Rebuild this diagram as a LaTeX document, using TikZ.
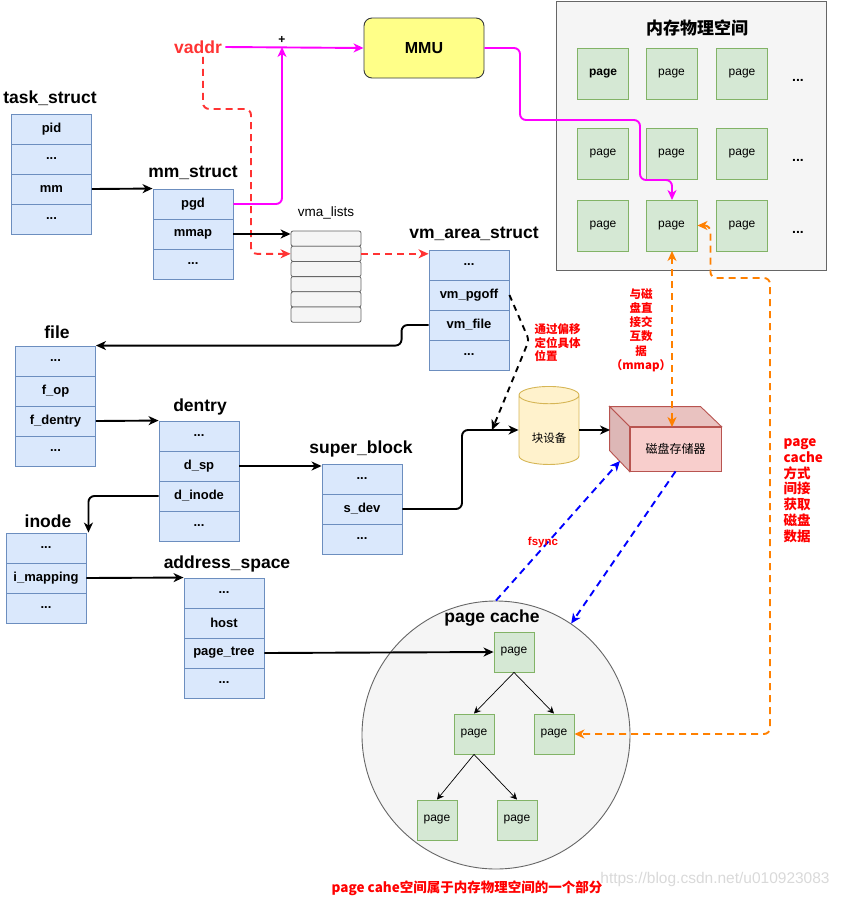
\documentclass[tikz,border=0pt]{standalone}
\usepackage{fontspec}
\setmainfont{Liberation Sans}
\newfontfamily\cjk{Noto Sans CJK SC}
\usetikzlibrary{arrows.meta,shapes.geometric}

\definecolor{fldfill}{HTML}{DAE8FC}
\definecolor{fldline}{HTML}{6C8EBF}
\definecolor{pgfill}{HTML}{D5E8D4}
\definecolor{pgline}{HTML}{82B366}
\definecolor{memfill}{HTML}{F5F5F5}
\definecolor{memline}{HTML}{666666}
\definecolor{mmufill}{HTML}{FFFF88}
\definecolor{mmuline}{HTML}{36393D}
\definecolor{blkfill}{HTML}{FFF2CC}
\definecolor{blkline}{HTML}{D6B656}
\definecolor{diskfill}{HTML}{F8CECC}
\definecolor{diskline}{HTML}{B85450}
\definecolor{vred}{HTML}{FF3333}
\definecolor{magline}{HTML}{FF00FF}
\definecolor{orline}{HTML}{FF8000}

\newcommand{\fdots}{...}

\begin{document}
\begin{tikzpicture}[x=1pt, y=-1pt,
    >={Stealth[length=10pt, width=9pt, inset=3pt]},
    fld/.style={draw=fldline, fill=fldfill, line width=0.9pt, minimum width=80pt, minimum height=30pt, inner sep=0pt, font=\fontsize{13}{15}\selectfont\bfseries},
    ttl/.style={font=\fontsize{17.5}{20}\selectfont\bfseries},
    pg/.style={draw=pgline, fill=pgfill, line width=0.9pt, minimum size=51pt, inner sep=0pt, font=\fontsize{12}{14}\selectfont},
    tpg/.style={pg, minimum size=40pt},
    vl/.style={draw=memline, fill=memfill, line width=0.8pt, rounded corners=2pt, minimum width=70pt, minimum height=15.2pt, inner sep=0pt},
    arr/.style={->, line width=1.9pt},
    rdash/.style={arr, vred, dash pattern=on 7pt off 5pt},
    kdash/.style={arr, dash pattern=on 6pt off 5pt},
    odash/.style={line width=1.9pt, orline, dash pattern=on 7pt off 5pt},
    bdash/.style={arr, blue, dash pattern=on 7pt off 5pt},
    mag/.style={arr, magline},
    tarr/.style={-{Stealth[length=7pt, width=7pt, inset=2.5pt]}, line width=0.7pt},
    rnote/.style={text=red, font=\cjk\fontsize{11.5}{14.2}\selectfont\bfseries}
  ]

    \useasboundingbox (0,0) rectangle (841,898);

    \node[draw=memline, fill=memfill, line width=0.9pt, minimum width=270pt, minimum height=269pt, inner sep=0pt] (mem) at (691,135.5) {};
    \node[font=\cjk\fontsize{17}{20}\selectfont\bfseries] (memt) at (697,28) {内存物理空间};
    \foreach \r/\y in {1/74,2/153.5,3/225.5}
        \foreach \c/\x in {1/603,2/671.5,3/742}
            \node[pg] (p\r\c) at (\x,\y) {\ifnum\r\c=11 \textbf{page}\else page\fi};
    \foreach \y [count=\k] in {80,160,232}
        \node[font=\fontsize{14}{14}\selectfont\bfseries] (md\k) at (798,\y) {\fdots};

    \node[draw=mmuline, fill=mmufill, line width=0.9pt, rounded corners=8pt, minimum width=120pt, minimum height=60pt, font=\fontsize{16}{18}\selectfont\bfseries] (mmu) at (424,48) {MMU};
    \node[text=vred, font=\fontsize{17.5}{20}\selectfont\bfseries] (vaddr) at (198,47) {vaddr};
    \node[font=\fontsize{12}{12}\selectfont\bfseries] (plus) at (282,40) {+};
    \coordinate (jn) at (282,47);

    \node[ttl] (tst) at (50,98) {task\_struct};
    \foreach \i/\t in {1/pid,2/\fdots,3/mm,4/\fdots}
        \node[fld] (ts\i) at (51.5,99+30*\i) {\t};

    \node[ttl] (mmt) at (193,173) {mm\_struct};
    \foreach \i/\t in {1/pgd,2/mmap,3/\fdots}
        \node[fld] (mm\i) at (193,174+30*\i) {\t};

    \node[font=\fontsize{13.5}{15}\selectfont] (vlt) at (326,213) {vma\_lists};
    \foreach \i in {1,...,6}
        \node[vl] (vl\i) at (326,223.4+15.2*\i) {};

    \node[ttl] (vat) at (474,234) {vm\_area\_struct};
    \foreach \i/\t in {1/\fdots,2/vm\_pgoff,3/vm\_file,4/\fdots}
        \node[fld] (va\i) at (469,235+30*\i) {\t};

    \node[ttl] (flt) at (57,332) {file};
    \foreach \i/\t in {1/\fdots,2/f\_op,3/f\_dentry,4/\fdots}
        \node[fld] (fl\i) at (55.5,331+30*\i) {\t};

    \node[ttl] (det) at (200,407) {dentry};
    \foreach \i/\t in {1/\fdots,2/d\_sp,3/d\_inode,4/\fdots}
        \node[fld] (de\i) at (199,406+30*\i) {\t};

    \node[ttl] (sbt) at (361,449) {super\_block};
    \foreach \i/\t in {1/\fdots,2/s\_dev,3/\fdots}
        \node[fld] (sb\i) at (362,449+30*\i) {\t};

    \node[ttl] (int) at (48,521) {inode};
    \foreach \i/\t in {1/\fdots,2/i\_mapping,3/\fdots}
        \node[fld] (in\i) at (46,518+30*\i) {\t};

    \node[ttl] (ast) at (227,564) {address\_space};
    \foreach \i/\t in {1/\fdots,2/host,3/page\_tree,4/\fdots}
        \node[fld] (as\i) at (224,563+30*\i) {\t};

    \node[cylinder, shape border rotate=90, aspect=0.5, draw=blkline, fill=blkfill, line width=0.9pt, minimum width=60pt, minimum height=78pt, inner sep=0pt, font=\cjk\fontsize{11.5}{13}\selectfont] (blk) at (549,430) {\raisebox{-12.5pt}[0pt][0pt]{块设备}};

    \node[draw=diskline, fill=diskfill, line width=0.9pt, minimum width=91pt, minimum height=44pt, inner sep=0pt, font=\cjk\fontsize{12}{14}\selectfont] (disk) at (675.5,449) {磁盘存储器};
    \draw[diskline, fill=diskfill!94!black, line width=0.9pt] (disk.north west) -- ++(-20,-20) -- ++(91,0) -- (disk.north east) -- cycle;
    \draw[diskline, fill=diskfill!89!black, line width=0.9pt] (disk.north west) -- ++(-20,-20) -- ++(0,44) -- (disk.south west) -- cycle;
    \coordinate (dl) at (610,430);
    \coordinate (dbl) at (620,461);

    \node[circle, draw=memline, fill=memfill, line width=0.9pt, minimum size=268pt, inner sep=0pt] (pc) at (496,735) {};
    \node[ttl] (pct) at (492,618) {page cache};
    \node[tpg] (t1) at (514,652) {page};
    \node[tpg] (t2) at (474,734) {page};
    \node[tpg] (t3) at (554,734) {page};
    \node[tpg] (t4) at (437,820) {page};
    \node[tpg] (t5) at (517,820) {page};

    \coordinate (bend) at (462,430);
    \coordinate (hit) at (492,430);

    \draw[mag] (vaddr.east) -- (mmu.west);
    \draw[mag, rounded corners=6pt] (mm1.east) -| (jn);
    \draw[mag, rounded corners=6pt] (mmu.east) -- (520,48) -- (520,120) -- (640,120) -- (640,180) -- (672,180) -- (672,200);
    \draw[rdash, rounded corners=6pt] ([xshift=5pt]vaddr.south) -- ++(0,52) -| (251,253.8) -- (vl2.west);
    \draw[rdash] (vl2.east) -- (vl2.east -| va1.west);

    \draw[arr] (ts3.east) -- (mm1.north west);
    \draw[arr] (mm2.east) -- (mm2.east -| vl1.west);
    \draw[arr, rounded corners=6pt] (va3.west) -- ++(-27,0) |- (fl1.north east);
    \draw[arr] (fl3.east) -- (de1.north west);
    \draw[arr] (de2.east) -- (de2.east -| sb1.west);
    \draw[arr, rounded corners=6pt] (de3.west) -| ([xshift=2pt]in1.north east);
    \draw[arr] (in2.east) -- (as1.north west);
    \draw[arr] (as3.east) -- (t1.west);
    \draw[arr, rounded corners=6pt] (sb2.east) -| (bend) -- (blk.west);
    \draw[kdash, rounded corners=4pt] (va2.east) -- (529,340) -- (hit);
    \draw[arr] (blk.east) -- (dl);

    \draw[odash, <->] (672,251) -- (672,427);
    \draw[odash, <->, rounded corners=6pt] (p32.east) -- ++(13,0) |- (770,278) |- (t3.east);

    \draw[bdash] (pc.north) -- (dbl);
    \draw[bdash] (disk.south) -- (pc.56);

    \draw[tarr] (t1.south) -- (t2.north);
    \draw[tarr] (t1.south) -- (t3.north);
    \draw[tarr] (t2.south) -- (t4.north);
    \draw[tarr] (t2.south) -- (t5.north);

    \node[rnote, anchor=west, align=left, font=\cjk\fontsize{11.5}{13.5}\selectfont\bfseries] (nt1) at (531,343) {通过偏移\\定位具体\\位置};
    \node[rnote, align=center] (nt2) at (641,330) {与磁\\盘直\\接交\\互数\\据\\（mmap）};
    \node[rnote, anchor=north west, align=left, font=\cjk\fontsize{13.5}{15.8}\selectfont\bfseries] (nt3) at (780,435) {page\\cache\\方式\\间接\\获取\\磁盘\\数据};
    \node[text=red, font=\fontsize{11.5}{13}\selectfont\bfseries] (fs) at (543,543) {fsync};
    \node[text=red, font=\cjk\fontsize{13.5}{15}\selectfont\bfseries] (foot) at (467,888) {page cahe空间属于内存物理空间的一个部分};
    \node[text=gray!30, font=\fontsize{15.5}{17}\selectfont] (wm) at (715,879) {https://blog.csdn.net/u010923083};
\end{tikzpicture}
\end{document}
